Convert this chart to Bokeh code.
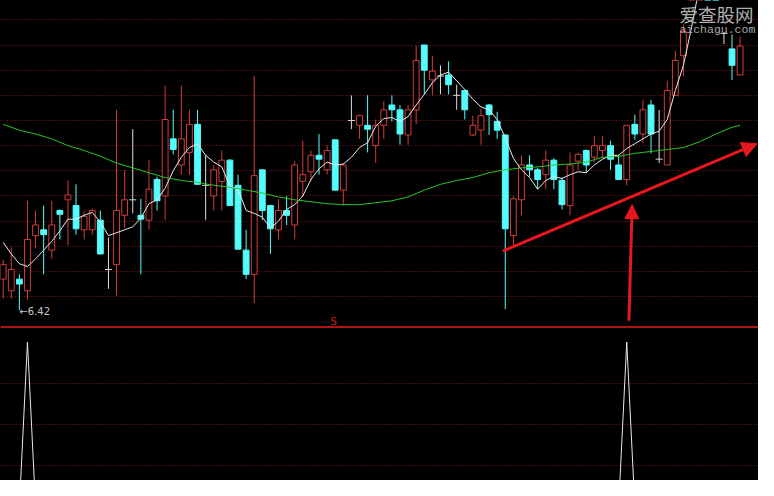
from bokeh.plotting import figure
from bokeh.models import (Range1d, FixedTicker, Grid, Span, Arrow, NormalHead,
                          ColumnDataSource, Label)
from bokeh.layouts import column
from bokeh.embed import file_html
from bokeh.resources import INLINE

# ---------------- data ----------------
opens = [6.74, 6.62, 6.74, 6.62, 7.19, 7.25, 7.04, 7.45, 7.56, 7.50,
         7.25, 7.25, 7.35, 6.84, 6.89, 7.40, 7.56, 7.40, 7.35, 7.77,
         7.60, 8.19, 7.92, 8.05, 8.34, 7.71, 7.60, 7.75, 7.97, 7.71,
         7.04, 6.79, 7.87, 7.50, 7.25, 7.45, 7.30, 7.75, 7.85, 8.02,
         7.87, 8.18, 7.66, 8.38, 8.33, 8.33, 8.12, 8.33, 8.54, 8.49,
         8.23, 8.49, 9.16, 8.80, 8.84, 8.85, 8.64, 8.69, 8.23, 8.28,
         8.54, 8.37, 8.23, 7.19, 7.56, 7.92, 7.87, 7.82, 7.97, 7.76,
         7.50, 7.96, 8.07, 8.00, 8.07, 8.12, 7.92, 7.77, 8.34, 8.24,
         8.54, 7.98, 7.92, 8.64, 9.05, 9.67, 10.32, 11.02, 10.52, 9.28,
         9.12, 8.85]
highs = [6.94, 7.07, 6.79, 7.55, 7.45, 7.50, 7.55, 7.46, 7.76, 7.72,
         7.44, 7.47, 7.45, 7.17, 8.49, 7.87, 8.29, 7.57, 7.97, 7.80,
         8.74, 8.49, 8.74, 8.49, 8.49, 8.02, 7.92, 8.07, 7.98, 7.82,
         7.25, 8.84, 7.87, 7.51, 7.57, 7.60, 7.96, 8.17, 8.07, 8.24,
         8.12, 8.18, 7.94, 8.64, 8.44, 8.64, 8.39, 8.58, 8.64, 8.54,
         8.54, 9.15, 9.16, 9.05, 8.95, 8.99, 8.75, 8.70, 8.43, 8.50,
         8.55, 8.47, 8.24, 7.60, 8.02, 8.02, 7.89, 8.07, 7.99, 7.79,
         8.05, 8.05, 8.08, 8.22, 8.22, 8.17, 8.02, 8.33, 8.44, 8.59,
         8.59, 8.49, 8.79, 9.10, 9.37, 10.32, 11.12, 11.22, 10.62, 9.28,
         9.27, 9.25]
lows = [6.54, 6.54, 6.42, 6.53, 7.06, 6.79, 6.95, 7.15, 7.09, 7.20,
        7.15, 7.20, 7.00, 6.64, 6.57, 7.27, 7.42, 6.79, 7.25, 7.45,
        7.35, 8.03, 7.82, 7.82, 7.72, 7.35, 7.45, 7.45, 7.50, 7.05,
        6.74, 6.49, 7.35, 7.00, 7.15, 7.30, 7.15, 7.59, 7.75, 7.82,
        7.82, 7.66, 7.50, 8.29, 8.19, 8.05, 7.94, 8.19, 8.37, 8.13,
        8.13, 8.34, 8.65, 8.64, 8.65, 8.65, 8.49, 8.39, 8.22, 8.13,
        8.23, 8.19, 6.43, 7.09, 7.40, 7.80, 7.67, 7.67, 7.67, 7.46,
        7.40, 7.87, 7.84, 7.95, 7.99, 7.87, 7.77, 7.71, 8.18, 8.15,
        8.04, 7.94, 7.92, 8.64, 8.84, 9.67, 10.27, 10.52, 9.72, 9.17,
        8.80, 8.85]
closes = [6.89, 6.84, 6.69, 7.15, 7.30, 7.20, 7.30, 7.41, 7.61, 7.26,
          7.39, 7.45, 7.00, 6.84, 7.45, 7.56, 7.56, 7.36, 7.67, 7.55,
          8.39, 8.08, 8.19, 8.34, 7.72, 7.71, 7.87, 7.97, 7.50, 7.05,
          6.79, 7.81, 7.45, 7.26, 7.45, 7.40, 7.92, 7.82, 8.02, 7.98,
          8.07, 7.66, 7.92, 8.38, 8.43, 8.29, 8.33, 8.49, 8.49, 8.24,
          8.49, 9.00, 8.90, 8.89, 8.84, 8.75, 8.64, 8.49, 8.33, 8.43,
          8.44, 8.28, 7.26, 7.57, 7.92, 7.87, 7.77, 7.97, 7.77, 7.51,
          7.92, 8.03, 7.92, 8.12, 8.12, 7.98, 7.77, 8.33, 8.24, 8.49,
          8.24, 7.98, 8.69, 9.00, 9.30, 10.22, 11.02, 10.62, 9.82, 9.28,
          8.95, 9.15]

ma_white = [7.12, 7.00, 6.90, 6.87, 6.95, 7.04, 7.13, 7.24, 7.36, 7.36,
            7.40, 7.43, 7.33, 7.19, 7.22, 7.25, 7.28, 7.37, 7.52, 7.56,
            7.68, 7.86, 8.00, 8.10, 8.14, 8.02, 7.95, 7.90, 7.70, 7.67,
            7.45, 7.42, 7.38, 7.27, 7.34, 7.46, 7.51, 7.60, 7.77, 7.88,
            7.95, 7.92, 7.93, 8.00, 8.10, 8.15, 8.32, 8.40, 8.41, 8.37,
            8.42, 8.54, 8.65, 8.77, 8.85, 8.88, 8.79, 8.70, 8.60, 8.52,
            8.49, 8.39, 8.20, 7.99, 7.87, 7.79, 7.67, 7.76, 7.80, 7.78,
            7.82, 7.85, 7.84, 7.92, 7.98, 8.02, 8.02, 8.09, 8.14, 8.19,
            8.24, 8.27, 8.39, 8.69, 8.95, 9.34, 9.77]

green_x = [0, 2, 4, 6, 8, 10, 12, 14, 16, 18,
           20, 22, 24, 26, 28, 30, 32, 34, 36, 38,
           40, 42, 44, 46, 48, 50, 52, 54, 56, 58,
           60, 62, 64, 66, 68, 70, 72, 74, 76, 78,
           80, 82, 84, 86, 88, 90, 91]
ma_green = [8.34, 8.28, 8.24, 8.19, 8.12, 8.07, 8.01, 7.94, 7.89, 7.84,
            7.79, 7.76, 7.74, 7.71, 7.69, 7.66, 7.63, 7.59, 7.56, 7.54,
            7.52, 7.51, 7.51, 7.53, 7.55, 7.59, 7.66, 7.72, 7.76, 7.79,
            7.84, 7.87, 7.89, 7.90, 7.92, 7.93, 7.95, 8.00, 8.01, 8.04,
            8.06, 8.08, 8.10, 8.16, 8.24, 8.31, 8.33]

signal = [0, 0, 0, 1, 0, 0, 0, 0, 0, 0,
          0, 0, 0, 0, 0, 0, 0, 0, 0, 0,
          0, 0, 0, 0, 0, 0, 0, 0, 0, 0,
          0, 0, 0, 0, 0, 0, 0, 0, 0, 0,
          0, 0, 0, 0, 0, 0, 0, 0, 0, 0,
          0, 0, 0, 0, 0, 0, 0, 0, 0, 0,
          0, 0, 0, 0, 0, 0, 0, 0, 0, 0,
          0, 0, 0, 0, 0, 0, 0, 1, 0, 0,
          0, 0, 0, 0, 0, 0, 0, 0, 0, 0,
          0, 0]

price_grid = [9.42, 9.16, 8.90, 8.64, 8.38, 8.12, 7.86, 7.60, 7.34, 7.08, 6.82, 6.56]
signal_grid = [0.25, 0.50, 0.75]
low_label = "6.42"
low_index = 2
signal_mark = "S"
watermark_cn = "爱查股网"
watermark_en = "aichagu.com"

# ---------------- styling ----------------
BG = "#000000"
RED = "#d23c3c"
CYAN = "#54fcfc"
DOJI = "#dcdcdc"
GRID = "#8a1d1d"
ARROW = "#e8161e"

W = 758
H = 480
H_TOP = round(H * 339 / 496)
H_BOT = H - H_TOP

n = len(opens)
xs = list(range(n))
x_range = Range1d(-0.33, 93.27)

body_top = [max(o, c) for o, c in zip(opens, closes)]
body_bot = [min(o, c) for o, c in zip(opens, closes)]
colors = [RED if c > o else (CYAN if c < o else DOJI) for o, c in zip(opens, closes)]
fills = [BG if c > o else CYAN for o, c in zip(opens, closes)]

wick_src = ColumnDataSource(dict(x=xs, high=highs, low=lows, top=body_top,
                                 bot=body_bot, color=colors))
bi = [i for i in xs if opens[i] != closes[i]]
body_src = ColumnDataSource(dict(x=[xs[i] for i in bi], top=[body_top[i] for i in bi],
                                 bot=[body_bot[i] for i in bi],
                                 color=[colors[i] for i in bi], fill=[fills[i] for i in bi]))
di = [i for i in xs if opens[i] == closes[i]]
doji_src = ColumnDataSource(dict(x=[xs[i] for i in di], y=[closes[i] for i in di]))


def base_fig(h, yr):
    f = figure(width=W, height=h, x_range=x_range, y_range=yr,
               x_axis_type=None, y_axis_type=None,
               output_backend="svg", toolbar_location=None,
               background_fill_color=BG, border_fill_color=BG,
               outline_line_color=None, min_border=0)
    return f


top = base_fig(H_TOP, Range1d(6.23, 9.62))
top.add_layout(Grid(dimension=1, ticker=FixedTicker(ticks=price_grid),
                    grid_line_color=GRID, grid_line_dash="1 2", grid_line_width=1))

top.segment(x0="x", y0="high", x1="x", y1="top", line_color="color", line_width=1, source=wick_src)
top.segment(x0="x", y0="bot", x1="x", y1="low", line_color="color", line_width=1, source=wick_src)
top.vbar(x="x", width=0.72, top="top", bottom="bot", fill_color="fill",
         line_color="color", line_width=1, source=body_src)
top.scatter(x="x", y="y", marker="dash", size=7, line_color=DOJI, line_width=1, source=doji_src)

top.line(xs[:len(ma_white)], ma_white, line_color="#e8e8e8", line_width=1)
top.line(green_x, ma_green, line_color="#27c427", line_width=1)

# trend arrow and vertical arrow (hand-drawn annotations)
top.add_layout(Arrow(end=NormalHead(size=15, fill_color=ARROW, line_color=ARROW),
                     x_start=61.70, y_start=7.03, x_end=93.10, y_end=8.14,
                     line_color=ARROW, line_width=3))
top.add_layout(Arrow(end=NormalHead(size=14, fill_color=ARROW, line_color=ARROW),
                     x_start=77.27, y_start=6.31, x_end=77.67, y_end=7.51,
                     line_color=ARROW, line_width=3))

top.add_layout(Span(location=6.245, dimension="width", line_color="#b01414", line_width=2))

top.add_layout(Label(x=low_index, y=lows[low_index] - 0.01, text="\u2190" + low_label,
                     text_font_size="9.5pt" if False else "10px", text_color="#c8c8c8",
                     text_align="left", text_baseline="middle", text_font="DejaVu Sans"))
top.add_layout(Label(x=40.8, y=6.30, text=signal_mark, text_font_size="10px",
                     text_color="#d02020", text_align="center", text_baseline="middle",
                     text_font="DejaVu Sans"))
top.add_layout(Label(x=83.5, y=9.61, text=watermark_cn, text_font_size="18.5px",
                     text_color="#b0b0b0", text_align="left", text_baseline="top",
                     text_font="Noto Sans CJK SC"))
top.add_layout(Label(x=83.5, y=9.39, text=watermark_en, text_font_size="11.5px",
                     text_color="#a8a8a8", text_align="left", text_baseline="top",
                     text_font="Liberation Mono"))

bot = base_fig(H_BOT, Range1d(0.159, 1.082))
bot.add_layout(Grid(dimension=1, ticker=FixedTicker(ticks=signal_grid),
                    grid_line_color=GRID, grid_line_dash="1 2", grid_line_width=1))
bot.line(xs, signal, line_color="#e8e8e8", line_width=1)

layout = column(top, bot, spacing=0)
layout.styles = {"background-color": BG}

open("out.html", "w").write(file_html(layout, INLINE))
